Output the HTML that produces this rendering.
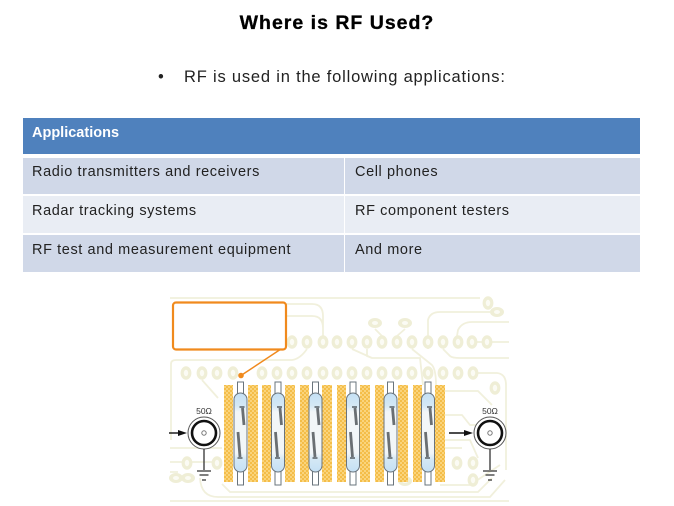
<!DOCTYPE html>
<html>
<head>
<meta charset="utf-8">
<style>
html,body{margin:0;padding:0;background:#fff}
#p{position:relative;width:674px;height:506px;overflow:hidden;background:#fff;font-family:"Liberation Sans",sans-serif}
.t{position:absolute;white-space:nowrap;color:#222;font-size:14.5px;line-height:18px;letter-spacing:.6px}
.b{position:absolute}
</style>
</head>
<body>
<div id="p">
<div class="t" style="left:0;width:674px;text-align:center;top:11px;font-size:19.5px;line-height:24px;font-weight:bold;color:#000;letter-spacing:1px;-webkit-text-stroke:.3px #000">Where is RF Used?</div>
<div class="t" style="left:158px;top:67px;font-size:16.5px;line-height:20px;color:#222;letter-spacing:0">•</div>
<div class="t" style="left:184px;top:67px;font-size:16.5px;line-height:20px;letter-spacing:.8px;color:#222">RF is used in the following applications:</div>

<div class="b" style="left:23px;top:118px;width:617px;height:36px;background:#4f81bd"></div>
<div class="b" style="left:23px;top:158px;width:321px;height:36px;background:#d0d8e8"></div>
<div class="b" style="left:345px;top:158px;width:295px;height:36px;background:#d0d8e8"></div>
<div class="b" style="left:23px;top:196px;width:321px;height:37px;background:#e9edf4"></div>
<div class="b" style="left:345px;top:196px;width:295px;height:37px;background:#e9edf4"></div>
<div class="b" style="left:23px;top:235px;width:321px;height:37px;background:#d0d8e8"></div>
<div class="b" style="left:345px;top:235px;width:295px;height:37px;background:#d0d8e8"></div>

<div class="t" style="left:32px;top:124px;font-weight:bold;color:#fff;letter-spacing:0">Applications</div>
<div class="t" style="left:32px;top:163px">Radio transmitters and receivers</div>
<div class="t" style="left:355px;top:163px">Cell phones</div>
<div class="t" style="left:32px;top:202px">Radar tracking systems</div>
<div class="t" style="left:355px;top:202px">RF component testers</div>
<div class="t" style="left:32px;top:241px">RF test and measurement equipment</div>
<div class="t" style="left:355px;top:241px">And more</div>

<svg class="b" style="left:0;top:0" width="674" height="506" viewBox="0 0 674 506">
<defs>
<pattern id="y" width="4" height="4" patternUnits="userSpaceOnUse">
<rect width="4" height="4" fill="#fad47c"/><rect width="2" height="2" fill="#f4bd48"/><rect x="2" y="2" width="2" height="2" fill="#f4bd48"/>
</pattern>
<g id="pad"><ellipse rx="5.4" ry="6.8" fill="#efeed6"/><ellipse rx="2.2" ry="3.2" fill="#fbfbf4"/></g>
<g id="hp"><ellipse rx="7" ry="5" fill="#efeed6"/><ellipse rx="3" ry="2" fill="#fbfbf4"/></g>
<linearGradient id="g" x1="0" y1="0" x2="0" y2="1">
<stop offset="0" stop-color="#c4e0f5"/><stop offset=".16" stop-color="#d4e8f5"/><stop offset=".24" stop-color="#f2f6f8"/><stop offset=".76" stop-color="#f2f6f8"/><stop offset=".84" stop-color="#d4e8f5"/><stop offset="1" stop-color="#c4e0f5"/>
</linearGradient>
<g id="r">
<rect x="-3" y="0" width="6" height="14" fill="#fff" stroke="#6a747c" stroke-width="1"/>
<rect x="-3" y="88" width="6" height="15" fill="#fff" stroke="#6a747c" stroke-width="1"/>
<rect x="-6.5" y="11" width="13" height="79" rx="6.5" fill="url(#g)" stroke="#6a747c" stroke-width="1"/>
<path d="M2 26 L3.500 43 M-2.500 50 L-.5 75" stroke="#6a6f73" stroke-width="2.800" fill="none"/>
<path d="M-1 25 H4 M-3 76 H2" stroke="#3d4348" stroke-width="1.200" fill="none"/>
</g>
</defs>

<!-- board traces -->
<g fill="none" stroke="#f1f0dc" stroke-width="1.800">
<path d="M170 298 H480 M170 501 H509"/>
<path d="M286 304 H312 Q323 304 323 316 V336 M286 316 H312 Q323 316 323 328"/>
<path d="M171 371 V364 Q171 360 176 360 H292 Q300 359 307 349"/>
<path d="M171 371 V440 M202 380 L218 398"/>
<path d="M352 349 L372 358 H420 L423 385 M367 349 V356 L372 358"/>
<path d="M412 349 L432 365 Q436 370 436 385"/>
<path d="M428 349 V320 Q430 312 440 312 H490"/>
<path d="M457 336 L458 330 Q462 322 472 322 H509"/>
<path d="M443 349 L450 356 Q452 358 460 358 H509 M473 342 H509 M473 373 H497 Q506 374 506 385 V470"/>
<path d="M445 391 H478 L492 405 M445 415 H462 L470 425 H477 M445 440 H470 L478 458 M445 448 H462"/>
<path d="M170 448 H222 M170 462 H222 M170 472 H178"/>
<path d="M200 478 Q201 497 218 497 H490 L505 480 M222 484 L230 492 H478 L492 478 M440 485 H470 L500 465"/>
<path d="M375 329 L382 336 M405 329 L397 336"/>
</g>

<g>
<use href="#pad" x="292" y="342"/><use href="#pad" x="307" y="342"/><use href="#pad" x="323" y="342"/><use href="#pad" x="337" y="342"/>
<use href="#pad" x="352" y="342"/><use href="#pad" x="367" y="342"/><use href="#pad" x="382" y="342"/><use href="#pad" x="397" y="342"/>
<use href="#pad" x="412" y="342"/><use href="#pad" x="428" y="342"/><use href="#pad" x="443" y="342"/><use href="#pad" x="458" y="342"/>
<use href="#pad" x="472" y="342"/><use href="#pad" x="487" y="342"/>
<use href="#pad" x="186" y="373"/><use href="#pad" x="202" y="373"/><use href="#pad" x="217" y="373"/><use href="#pad" x="233" y="373"/>
<use href="#pad" x="262" y="373"/><use href="#pad" x="277" y="373"/><use href="#pad" x="292" y="373"/><use href="#pad" x="307" y="373"/>
<use href="#pad" x="323" y="373"/><use href="#pad" x="337" y="373"/><use href="#pad" x="352" y="373"/><use href="#pad" x="367" y="373"/>
<use href="#pad" x="382" y="373"/><use href="#pad" x="397" y="373"/><use href="#pad" x="412" y="373"/><use href="#pad" x="428" y="373"/>
<use href="#pad" x="443" y="373"/><use href="#pad" x="458" y="373"/><use href="#pad" x="473" y="373"/>
<use href="#hp" x="375" y="323"/><use href="#hp" x="405" y="323"/><use href="#pad" x="488" y="303"/><use href="#hp" x="497" y="312"/>
<use href="#pad" x="495" y="388"/>
<use href="#pad" x="217" y="463"/><use href="#pad" x="187" y="463"/><use href="#pad" x="457" y="463"/><use href="#pad" x="473" y="463"/>
<use href="#pad" x="473" y="480"/><use href="#hp" x="405" y="481"/>
<use href="#hp" x="176" y="478"/><use href="#hp" x="188" y="478"/>
</g>

<!-- yellow strips -->
<g fill="url(#y)">
<rect x="224" y="385" width="9" height="97"/><rect x="248" y="385" width="10" height="97"/>
<rect x="262" y="385" width="9" height="97"/><rect x="285" y="385" width="10" height="97"/>
<rect x="300" y="385" width="9" height="97"/><rect x="322" y="385" width="10" height="97"/>
<rect x="337" y="385" width="9" height="97"/><rect x="360" y="385" width="10" height="97"/>
<rect x="375" y="385" width="9" height="97"/><rect x="398" y="385" width="10" height="97"/>
<rect x="413" y="385" width="9" height="97"/><rect x="435" y="385" width="10" height="97"/>
</g>

<!-- relays -->
<use href="#r" x="240.500" y="382"/><use href="#r" x="278" y="382"/><use href="#r" x="315.500" y="382"/>
<use href="#r" x="353" y="382"/><use href="#r" x="390.500" y="382"/><use href="#r" x="428" y="382"/>

<!-- left connector -->
<path d="M169 433 H181" stroke="#111" stroke-width="1.400"/><path d="M178 430 L187 433 L178 436Z" fill="#111"/>
<circle cx="204" cy="433" r="16" fill="#fff" stroke="#555" stroke-width="1"/>
<circle cx="204" cy="433" r="12" fill="#fff" stroke="#111" stroke-width="2.600"/>
<circle cx="204" cy="433" r="2.200" fill="#fff" stroke="#777" stroke-width="1"/>
<path d="M204 449 V470 M197 471 H211 M199.500 475 H208.500 M202 480 H206" stroke="#333" stroke-width="1.300" fill="none"/>
<text x="204" y="414" font-family="Liberation Sans, sans-serif" font-size="8.500" text-anchor="middle" fill="#333">50Ω</text>

<!-- right connector -->
<path d="M449 433 H467" stroke="#111" stroke-width="1.400"/><path d="M464 430 L473 433 L464 436Z" fill="#111"/>
<circle cx="490" cy="433" r="16" fill="#fff" stroke="#555" stroke-width="1"/>
<circle cx="490" cy="433" r="12" fill="#fff" stroke="#111" stroke-width="2.600"/>
<circle cx="490" cy="433" r="2.200" fill="#fff" stroke="#777" stroke-width="1"/>
<path d="M490 449 V470 M483 471 H497 M485.500 475 H494.500 M488 480 H492" stroke="#333" stroke-width="1.300" fill="none"/>
<text x="490" y="414" font-family="Liberation Sans, sans-serif" font-size="8.500" text-anchor="middle" fill="#333">50Ω</text>

<!-- callout -->
<rect x="173" y="302.500" width="113" height="47" rx="3" fill="#fff" stroke="#f08a1d" stroke-width="2.200"/>
<path d="M281 349 L241 375.500" stroke="#f08a1d" stroke-width="1.500"/>
<circle cx="241" cy="375.500" r="2.800" fill="#f08a1d"/>
</svg>
</div>
</body>
</html>
